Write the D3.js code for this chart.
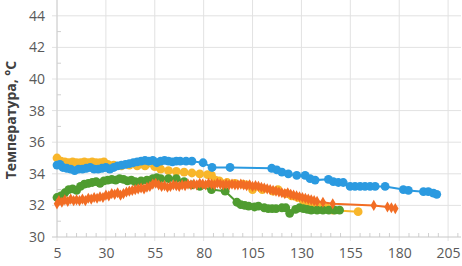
<!DOCTYPE html>
<html><head><meta charset="utf-8">
<script src="https://cdn.jsdelivr.net/npm/d3@7"></script>
<style>
body{margin:0;background:#fff;}
svg{display:block;font-family:"Open Sans",sans-serif;}
</style></head>
<body><svg id="c" width="462" height="266"></svg>
<script>
const xTicks=[5,30,55,80,105,130,155,180,205];
const yTicks=[30,32,34,36,38,40,42,44];

const goldX=[5,7,9,11,13,15,17,19,21,23,25,27,29,31,34,38,42,46,50,55,58,62,66,70,74,78,82,84,86,88,92,96,100,102,105,110,115.5,118,122,125,128,131,134,137,140,143,146,159];
const goldY=[35.0,34.8,34.75,34.7,34.75,34.7,34.7,34.75,34.7,34.75,34.7,34.7,34.75,34.6,34.55,34.5,34.55,34.5,34.5,34.45,34.3,34.2,34.15,34.1,34.05,34.0,33.95,33.9,33.6,33.55,33.45,33.4,33.35,33.3,33.0,33.0,32.9,33.0,32.75,32.6,32.5,32.3,32.1,31.95,31.9,31.85,31.7,31.6];

const greenX=[5,7,9,11,13,15,17,19,21,23,25,27,29,31,33,35,37,39,41,43,45,48,51,54,56,58,62,66,70,74,78,84,91,97,99,101,103,106,108,111,113,115,117,120,122,124,127,129,131,133,135,138,141,144,147,149.5];
const greenY=[32.5,32.6,32.8,33.0,33.05,32.95,33.2,33.35,33.4,33.45,33.5,33.4,33.55,33.6,33.65,33.6,33.7,33.65,33.55,33.6,33.5,33.55,33.6,33.7,33.75,33.7,33.7,33.7,33.5,33.3,33.2,33.0,32.9,32.2,32.05,32.0,31.95,31.9,31.95,31.85,31.8,31.8,31.8,31.85,31.85,31.5,31.75,31.85,31.8,31.75,31.7,31.7,31.7,31.7,31.7,31.7];

const orangeX=[5,6,7.5,9,10.5,12,13.5,15,16.5,18,19.5,21,22.5,24,25.5,27,28.5,30,31.5,33,34.5,36,37.5,39,40.5,42,43.5,45,46.5,48,49.5,51,52.5,54,55.5,57,58.5,60,61.5,63,64.5,66,67.5,69,70.5,72,73.5,75,76.5,78,79.5,81,82.5,84,85.5,87,88.5,90,91.5,93,94.5,96,97.5,99,100.5,102,103.5,105,106.5,108,109.5,111,112.5,114,115.5,117,118.5,120,121.5,123,124.5,126,127.5,129,130.5,132,133.5,135,136.5,138,141,146,167,174,176,178];
const orangeY=[32.1,32.3,32.2,32.35,32.25,32.4,32.3,32.35,32.3,32.4,32.3,32.45,32.4,32.5,32.45,32.55,32.5,32.65,32.6,32.75,32.7,32.8,32.65,32.75,32.85,32.9,32.95,33.0,33.05,33.1,33.05,33.15,33.2,33.35,33.4,33.3,33.2,33.25,33.15,33.2,33.3,33.25,33.2,33.3,33.25,33.35,33.3,33.35,33.3,33.4,33.35,33.3,33.4,33.35,33.3,33.4,33.35,33.3,33.35,33.3,33.35,33.3,33.3,33.35,33.3,33.25,33.3,33.2,33.25,33.2,33.15,33.1,33.05,33.0,32.95,32.9,32.85,32.8,32.75,32.8,32.7,32.65,32.6,32.55,32.5,32.45,32.4,32.35,32.3,32.25,32.2,32.1,32.0,31.9,31.85,31.8];

const blueX=[5,6.5,8,10,12,14,16,18,20,22,24,26,28,30,32,34,36,38,40,42,44,46,48,50,52,54,56,58,60,62,64,66,68,71,74,79.7,84.3,93.5,114.8,117.4,120,123.3,127.6,131.9,134.4,137,143.8,146.3,148.9,151.4,154.9,157.4,160,162.5,165.1,167.7,172.8,182.1,184.7,192.4,194.9,197.5,199.2];
const blueY=[34.55,34.6,34.4,34.35,34.3,34.2,34.3,34.3,34.35,34.4,34.3,34.3,34.35,34.4,34.3,34.4,34.5,34.55,34.6,34.65,34.7,34.75,34.8,34.85,34.8,34.85,34.7,34.8,34.85,34.8,34.75,34.8,34.8,34.8,34.8,34.7,34.4,34.4,34.35,34.25,34.1,34.0,33.9,33.9,33.7,33.6,33.65,33.5,33.45,33.45,33.2,33.2,33.2,33.2,33.2,33.2,33.2,33.0,32.95,32.87,32.87,32.78,32.7];

const series=[
 {name:"gold",xs:goldX,ys:goldY,color:"#f8b62b",marker:"circle"},
 {name:"green",xs:greenX,ys:greenY,color:"#4f9c30",marker:"circle"},
 {name:"orange",xs:orangeX,ys:orangeY,color:"#f26d24",marker:"diamond"},
 {name:"blue",xs:blueX,ys:blueY,color:"#2b9ae0",marker:"circle"}
];

const svg=d3.select("#c");
const x=d3.scaleLinear().domain([5,211.6]).range([57,461]);
const y=d3.scaleLinear().domain([30,45]).range([237,0]);

const g=svg.append("g");
g.selectAll("line.vg").data(xTicks).enter().append("line")
 .attr("x1",d=>x(d)).attr("x2",d=>x(d)).attr("y1",0).attr("y2",241)
 .attr("stroke","#e2e2e2").attr("stroke-width",1);
g.selectAll("line.hg").data(yTicks.filter(d=>d>30)).enter().append("line")
 .attr("x1",52).attr("x2",461).attr("y1",d=>y(d)).attr("y2",d=>y(d))
 .attr("stroke","#e2e2e2").attr("stroke-width",1);
const minorX=d3.range(5,211,5).filter(v=>(v-5)%25!==0);
g.selectAll("line.mx").data(minorX).enter().append("line")
 .attr("x1",d=>x(d)).attr("x2",d=>x(d)).attr("y1",233).attr("y2",237)
 .attr("stroke","#d0d0d0");
const minorY=d3.range(31,45,2);
g.selectAll("line.my").data(minorY).enter().append("line")
 .attr("x1",57).attr("x2",61).attr("y1",d=>y(d)).attr("y2",d=>y(d))
 .attr("stroke","#d0d0d0");
g.append("line").attr("x1",57).attr("x2",57).attr("y1",0).attr("y2",237).attr("stroke","#d0d0d0");
g.append("line").attr("x1",52).attr("x2",461).attr("y1",y(30)).attr("y2",y(30)).attr("stroke","#c8c8c8");

const xa=svg.append("g").attr("transform","translate(0,237)")
 .call(d3.axisBottom(x).tickValues(xTicks).tickSize(0).tickPadding(11));
xa.select(".domain").remove();
xa.selectAll("text").attr("font-size",14).attr("fill","#595959").attr("font-family","Open Sans");
const ya=svg.append("g").attr("transform","translate(57,0)")
 .call(d3.axisLeft(y).tickValues(yTicks).tickSize(0).tickPadding(12));
ya.select(".domain").remove();
ya.selectAll("text").attr("font-size",14).attr("fill","#595959").attr("font-family","Open Sans");

svg.append("text").attr("transform","translate(16,120) rotate(-90)")
 .attr("text-anchor","middle").attr("font-size",14).attr("font-weight","bold")
 .attr("fill","#404040").attr("font-family","Open Sans").text("Температура, °C");

const line=d3.line().x(d=>x(d[0])).y(d=>y(d[1]));
series.forEach(s=>{
  const pts=s.xs.map((v,i)=>[v,s.ys[i]]);
  const gs=svg.append("g");
  gs.append("path").datum(pts).attr("d",line).attr("fill","none")
    .attr("stroke",s.color).attr("stroke-width",2);
  if(s.marker==="circle"){
    gs.selectAll("circle").data(pts).enter().append("circle")
      .attr("cx",d=>x(d[0])).attr("cy",d=>y(d[1])).attr("r",4.4).attr("fill",s.color);
  } else {
    const sym=d3.symbol().type(d3.symbolDiamond).size(36);
    gs.selectAll("path.m").data(pts).enter().append("path").attr("class","m")
      .attr("d",sym).attr("transform",d=>`translate(${x(d[0])},${y(d[1])})`).attr("fill",s.color);
  }
});
</script></body></html>
